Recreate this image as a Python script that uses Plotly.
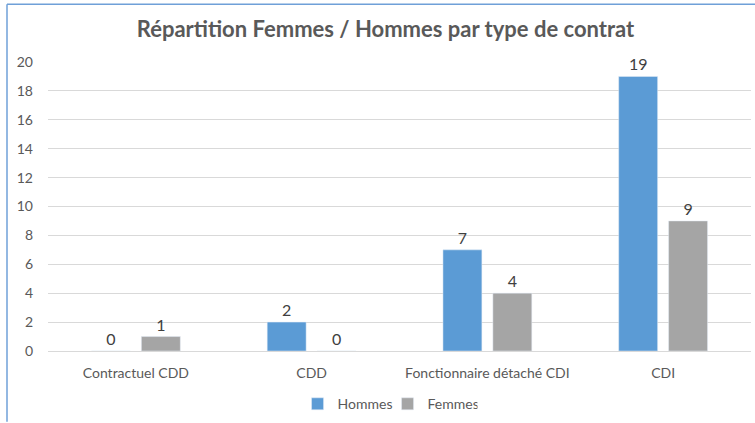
import plotly.graph_objects as go

categories = ["Contractuel CDD", "CDD", "Fonctionnaire détaché CDI", "CDI"]
hommes = [0, 2, 7, 19]
femmes = [1, 0, 4, 9]
y_ticks = [0, 2, 4, 6, 8, 10, 12, 14, 16, 18, 20]

FONT = "Lato"
W, H = 755, 423
L, R, T, B = 48, 4, 62, 71

fig = go.Figure()
fig.add_trace(go.Bar(name="Hommes", x=categories, y=hommes, marker_color="#5B9BD5",
                     text=[str(v) for v in hommes], textposition="outside",
                     textfont=dict(size=16, color="#404040", family=FONT), cliponaxis=False))
fig.add_trace(go.Bar(name="Femmes", x=categories, y=femmes, marker_color="#A5A5A5",
                     text=[str(v) for v in femmes], textposition="outside",
                     textfont=dict(size=16, color="#404040", family=FONT), cliponaxis=False))

pw = W - L - R
ph = H - T - B
fig.update_layout(
    width=W, height=H,
    margin=dict(l=L, r=R, t=T, b=B, pad=0),
    paper_bgcolor="white", plot_bgcolor="white",
    barmode="group", bargap=0.432, bargroupgap=0.22,
    title=dict(text="<b>Répartition Femmes / Hommes par type de contrat</b>",
               x=385.5 / W, xanchor="center", y=1 - 29 / H, yanchor="middle",
               font=dict(family=FONT, size=22, color="#595959")),
    font=dict(family=FONT, color="#595959", size=14),
    xaxis=dict(showgrid=False, showline=False, ticks="", ticklabelstandoff=12,
               tickfont=dict(size=14, color="#595959", family=FONT)),
    yaxis=dict(range=[0, 20], tickvals=y_ticks, showgrid=True, gridcolor="#D9D9D9", gridwidth=1,
               zeroline=True, zerolinecolor="#D9D9D9", zerolinewidth=1,
               showline=False, ticks="", ticklabelstandoff=14,
               tickfont=dict(size=14, color="#595959", family=FONT)),
    legend=dict(orientation="h", x=0.483, xanchor="center", y=-0.18, yanchor="middle",
                font=dict(size=14, color="#595959", family=FONT), itemwidth=30,
                entrywidth=45, traceorder="normal"),
    showlegend=True,
)

# partial chart frame (left and top edges)
x_left = (7 - L) / pw
y_top = 1 + (T - 4) / ph
y_bot = -(B) / ph
fig.add_shape(type="line", xref="paper", yref="paper", x0=x_left, x1=x_left, y0=y_bot, y1=y_top,
              line=dict(color="#6FA0D8", width=1.5))
fig.add_shape(type="line", xref="paper", yref="paper", x0=x_left, x1=1 + R / pw, y0=y_top, y1=y_top,
              line=dict(color="#6FA0D8", width=1.5))

fig.write_html("out.html", config={"displayModeBar": False},
               post_script="document.body.style.margin='0';document.body.style.overflow='hidden';")
